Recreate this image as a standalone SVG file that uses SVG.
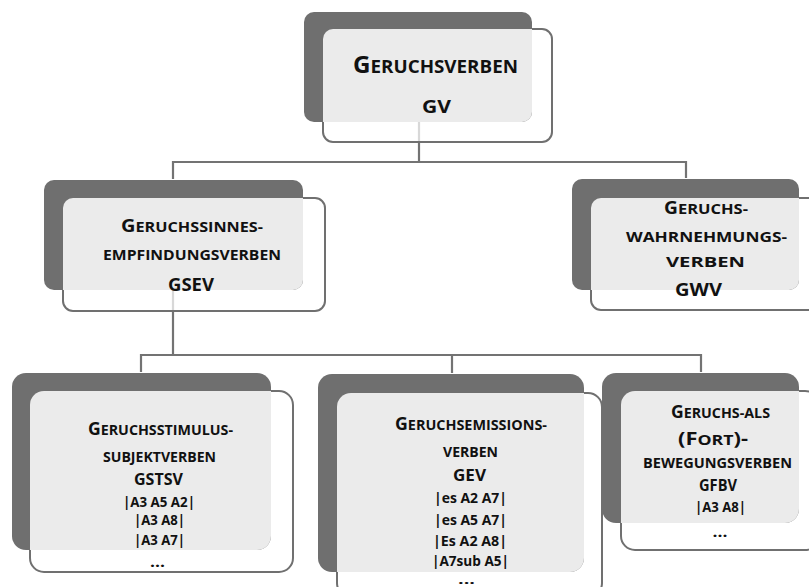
<svg xmlns="http://www.w3.org/2000/svg" width="809" height="587" viewBox="0 0 809 587">
  <style>
    .back { fill: #6f6f6f; }
    .frame { fill: #ffffff; fill-opacity: 0.72; stroke: #707070; stroke-width: 2; }
    .face { fill: #ebebeb; }
    .wire { fill: none; stroke: #737373; stroke-width: 2.2; }
    text { font-family: "Open Sans", "Noto Sans", "Liberation Sans", sans-serif; font-weight: 700; fill: #111111; text-anchor: middle; }
  </style>
  <defs>
    <clipPath id="c-gv"><rect x="304" y="12" width="228" height="110" rx="10"/></clipPath>
    <clipPath id="c-gsev"><rect x="44" y="180" width="259" height="110" rx="10"/></clipPath>
    <clipPath id="c-gwv"><rect x="572" y="179" width="227" height="111" rx="10"/></clipPath>
    <clipPath id="c-gstsv"><rect x="12" y="373" width="259" height="177" rx="14"/></clipPath>
    <clipPath id="c-gev"><rect x="318" y="374" width="266" height="198" rx="14"/></clipPath>
    <clipPath id="c-gfbv"><rect x="602" y="373" width="197" height="150" rx="14"/></clipPath>
  </defs>

  <!-- tree connectors -->
  <g id="connectors">
    <path class="wire" d="M419 122 V162 M173 162 H686 M173 161 V179 M686 161 V178"/>
    <path class="wire" d="M173 290 V355 M141 355 H701 M141 354 V372 M452 354 V373 M701 354 V372"/>
  </g>

  <g id="gv">
    <rect class="frame" x="323" y="29" width="229" height="113" rx="10"/>
    <rect class="back" x="304" y="12" width="228" height="110" rx="10"/>
    <rect class="face" x="323" y="29" width="229" height="113" rx="10" clip-path="url(#c-gv)"/>
    <text x="435.5" y="73" textLength="165" lengthAdjust="spacingAndGlyphs"><tspan font-size="22.5">G</tspan><tspan font-size="17.5">ERUCHSVERBEN</tspan></text>
    <text x="436.5" y="113" font-size="18" textLength="29" lengthAdjust="spacingAndGlyphs">GV</text>
  </g>

  <g id="gsev">
    <rect class="frame" x="63" y="198" width="262" height="113" rx="10"/>
    <rect class="back" x="44" y="180" width="259" height="110" rx="10"/>
    <rect class="face" x="63" y="198" width="262" height="113" rx="10" clip-path="url(#c-gsev)"/>
    <text x="192" y="232" textLength="142" lengthAdjust="spacingAndGlyphs"><tspan font-size="18.5">G</tspan><tspan font-size="15">ERUCHSSINNES-</tspan></text>
    <text x="192" y="260" font-size="15" textLength="178" lengthAdjust="spacingAndGlyphs">EMPFINDUNGSVERBEN</text>
    <text x="191" y="291" font-size="17" textLength="46" lengthAdjust="spacingAndGlyphs">GSEV</text>
  </g>

  <g id="gwv">
    <rect class="frame" x="591" y="198" width="228" height="112" rx="10"/>
    <rect class="back" x="572" y="179" width="227" height="111" rx="10"/>
    <rect class="face" x="591" y="198" width="228" height="112" rx="10" clip-path="url(#c-gwv)"/>
    <text x="706" y="214" textLength="84" lengthAdjust="spacingAndGlyphs"><tspan font-size="17.5">G</tspan><tspan font-size="15">ERUCHS-</tspan></text>
    <text x="706.5" y="242" font-size="15" textLength="161" lengthAdjust="spacingAndGlyphs">WAHRNEHMUNGS-</text>
    <text x="705.5" y="267" font-size="15" textLength="79" lengthAdjust="spacingAndGlyphs">VERBEN</text>
    <text x="698.5" y="296" font-size="17" textLength="47" lengthAdjust="spacingAndGlyphs">GWV</text>
  </g>

  <g id="gstsv">
    <rect class="frame" x="30" y="391" width="263" height="181" rx="14"/>
    <rect class="back" x="12" y="373" width="259" height="177" rx="14"/>
    <rect class="face" x="30" y="391" width="263" height="181" rx="14" clip-path="url(#c-gstsv)"/>
    <text x="160.5" y="435" textLength="145" lengthAdjust="spacingAndGlyphs"><tspan font-size="18.5">G</tspan><tspan font-size="15">ERUCHSSTIMULUS-</tspan></text>
    <text x="159.5" y="462" font-size="15" textLength="113" lengthAdjust="spacingAndGlyphs">SUBJEKTVERBEN</text>
    <text x="158.5" y="485" font-size="16.5" textLength="49" lengthAdjust="spacingAndGlyphs">GSTSV</text>
    <text x="159" y="507" font-size="14" textLength="72" lengthAdjust="spacingAndGlyphs">|A3 A5 A2|</text>
    <text x="159.5" y="525" font-size="14" textLength="51" lengthAdjust="spacingAndGlyphs">|A3 A8|</text>
    <text x="159.5" y="545" font-size="14" textLength="51" lengthAdjust="spacingAndGlyphs">|A3 A7|</text>
    <text x="157.5" y="567" font-size="13.5" textLength="15" lengthAdjust="spacingAndGlyphs">...</text>
  </g>

  <g id="gev">
    <rect class="frame" x="337" y="393" width="265" height="204" rx="14"/>
    <rect class="back" x="318" y="374" width="266" height="198" rx="14"/>
    <rect class="face" x="337" y="393" width="265" height="204" rx="14" clip-path="url(#c-gev)"/>
    <text x="471" y="430" textLength="152" lengthAdjust="spacingAndGlyphs"><tspan font-size="18.5">G</tspan><tspan font-size="15">ERUCHSEMISSIONS-</tspan></text>
    <text x="470.5" y="457" font-size="15" textLength="55" lengthAdjust="spacingAndGlyphs">VERBEN</text>
    <text x="469.5" y="481" font-size="16.5" textLength="33" lengthAdjust="spacingAndGlyphs">GEV</text>
    <text x="470.5" y="503" font-size="14" textLength="73" lengthAdjust="spacingAndGlyphs">|es A2 A7|</text>
    <text x="470.5" y="525" font-size="14" textLength="73" lengthAdjust="spacingAndGlyphs">|es A5 A7|</text>
    <text x="470" y="546" font-size="14" textLength="74" lengthAdjust="spacingAndGlyphs">|Es A2 A8|</text>
    <text x="470.5" y="566" font-size="13.5" textLength="77" lengthAdjust="spacingAndGlyphs">|A7sub A5|</text>
    <text x="466.5" y="584" font-size="12" textLength="17" lengthAdjust="spacingAndGlyphs">...</text>
  </g>

  <g id="gfbv">
    <rect class="frame" x="621" y="391" width="198" height="159" rx="14"/>
    <rect class="back" x="602" y="373" width="197" height="150" rx="14"/>
    <rect class="face" x="621" y="391" width="198" height="159" rx="14" clip-path="url(#c-gfbv)"/>
    <text x="720.5" y="418" textLength="99" lengthAdjust="spacingAndGlyphs"><tspan font-size="18.5">G</tspan><tspan font-size="15">ERUCHS-ALS</tspan></text>
    <text x="713" y="445" textLength="70" lengthAdjust="spacingAndGlyphs"><tspan font-size="18.5">(F</tspan><tspan font-size="15">ORT</tspan><tspan font-size="18.5">)-</tspan></text>
    <text x="717.5" y="468" font-size="15" textLength="149" lengthAdjust="spacingAndGlyphs">BEWEGUNGSVERBEN</text>
    <text x="718" y="491" font-size="16.5" textLength="38" lengthAdjust="spacingAndGlyphs">GFBV</text>
    <text x="720.5" y="512" font-size="14" textLength="51" lengthAdjust="spacingAndGlyphs">|A3 A8|</text>
    <text x="720" y="537" font-size="13.5" textLength="15" lengthAdjust="spacingAndGlyphs">...</text>
  </g>
</svg>
